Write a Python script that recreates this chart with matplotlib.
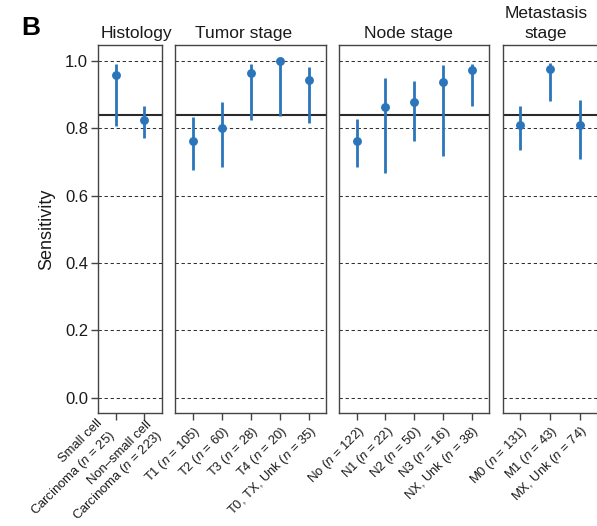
import matplotlib
matplotlib.use("Agg")
import matplotlib.pyplot as plt
import numpy as np

plt.rcParams["font.family"] = ["Liberation Sans", "DejaVu Sans"]
plt.rcParams["mathtext.fontset"] = "custom"
plt.rcParams["mathtext.rm"] = "Liberation Sans"
plt.rcParams["mathtext.it"] = "Liberation Sans:italic"

# ---- data -------------------------------------------------------------
panel_titles = ["Histology", "Tumor stage", "Node stage", "Metastasis\nstage"]

hist_labels = ["Small cell\nCarcinoma ($n$ = 25)", "Non\u2013small cell\nCarcinoma ($n$ = 223)"]
hist_sens = [0.960, 0.825]
hist_lo = [0.807, 0.772]
hist_hi = [0.991, 0.867]

tumor_labels = ["T1 ($n$ = 105)", "T2 ($n$ = 60)", "T3 ($n$ = 28)", "T4 ($n$ = 20)", "T0, TX, Unk ($n$ = 35)"]
tumor_sens = [0.762, 0.800, 0.964, 1.000, 0.943]
tumor_lo = [0.676, 0.686, 0.825, 0.838, 0.815]
tumor_hi = [0.833, 0.879, 0.993, 1.000, 0.983]

node_labels = ["No ($n$ = 122)", "N1 ($n$ = 22)", "N2 ($n$ = 50)", "N3 ($n$ = 16)", "NX, Unk ($n$ = 38)"]
node_sens = [0.762, 0.864, 0.880, 0.938, 0.974]
node_lo = [0.684, 0.669, 0.762, 0.718, 0.867]
node_hi = [0.829, 0.950, 0.942, 0.988, 0.993]

meta_labels = ["M0 ($n$ = 131)", "M1 ($n$ = 43)", "MX, Unk ($n$ = 74)"]
meta_sens = [0.809, 0.977, 0.811]
meta_lo = [0.736, 0.881, 0.709]
meta_hi = [0.866, 0.994, 0.884]

overall_sens = 0.84
y_ticks = [0.0, 0.2, 0.4, 0.6, 0.8, 1.0]

# ---- layout (pixels) ----------------------------------------------------
W, H = 597, 526
DPI = 100
fig = plt.figure(figsize=(W / DPI, H / DPI), dpi=DPI)

top_px, bottom_px = 45, 412.7
lefts = [98.3, 175.3, 339.3, 502.5]
widths = [63.4, 150.7, 149.7, 95.0]
title_x = [136.7, 243.5, 408.8, 546.0]

# offsets (points) and line spacing of the two-line labels, relative to their tick
two_line_offsets = [(-13.8, -2.9), (0.8, -4.1)]
two_line_spacing = [1.35, 1.1]

panels = [
    (hist_labels, hist_sens, hist_lo, hist_hi),
    (tumor_labels, tumor_sens, tumor_lo, tumor_hi),
    (node_labels, node_sens, node_lo, node_hi),
    (meta_labels, meta_sens, meta_lo, meta_hi),
]

blue = "#2b76ba"
frame = "#444444"
text_col = "#1a1a1a"
label_size = 9.4

for i, (labels, sens, lo, hi) in enumerate(panels):
    ax = fig.add_axes([lefts[i] / W, 1 - bottom_px / H, widths[i] / W, (bottom_px - top_px) / H])
    x = np.arange(1, len(sens) + 1)
    sens = np.asarray(sens)
    ax.set_xlim(0.4, len(sens) + 0.6)
    ax.set_ylim(-0.045, 1.048)

    for yv in y_ticks:
        ax.axhline(yv, color="#333333", lw=0.75, ls=(0, (3.2, 2.6)), zorder=1)
    ax.axhline(overall_sens, color="#2a2a2a", lw=1.5, zorder=2)

    ax.vlines(x, lo, hi, color=blue, lw=2.0, zorder=3)
    ax.plot(x, sens, "o", color=blue, ms=6.4, mec="none", zorder=4)

    ax.set_xticks(x)
    ax.tick_params(axis="x", direction="out", length=5.3, width=1.0, color=frame, pad=2.5)
    if any("\n" in lab for lab in labels):
        # two-line category names are placed by hand so the lines interleave cleanly
        ax.set_xticklabels([])
        for xi, lab, (ox, oy), ls in zip(x, labels, two_line_offsets, two_line_spacing):
            ax.annotate(lab, xy=(xi, 0), xycoords=ax.get_xaxis_transform(),
                        xytext=(ox, oy), textcoords="offset points",
                        rotation=45, rotation_mode="anchor", ha="right", va="top",
                        multialignment="right", linespacing=ls,
                        fontsize=label_size, color=text_col, annotation_clip=False)
    else:
        ax.set_xticklabels(labels, rotation=45, ha="right", va="top",
                           rotation_mode="anchor", fontsize=label_size, color=text_col)

    ax.set_yticks(y_ticks)
    if i == 0:
        ax.set_yticklabels([f"{v:.1f}" for v in y_ticks], fontsize=12, color=text_col)
        ax.tick_params(axis="y", direction="out", length=5.3, width=1.0, color=frame, pad=2)
        ax.set_ylabel("Sensitivity", fontsize=13, color=text_col, labelpad=7)
    else:
        ax.tick_params(axis="y", left=False, labelleft=False)

    for sp in ax.spines.values():
        sp.set_color(frame)
        sp.set_linewidth(1.0)

    fig.text(title_x[i] / W, 1 - 41 / H, panel_titles[i], ha="center", va="bottom",
             fontsize=12.5, color=text_col, linespacing=1.45)

fig.text(21 / W, 1 - 35 / H, "B", fontsize=19, fontweight="bold", ha="left",
         va="baseline", color="black")

fig.savefig("out.png", dpi=DPI)
